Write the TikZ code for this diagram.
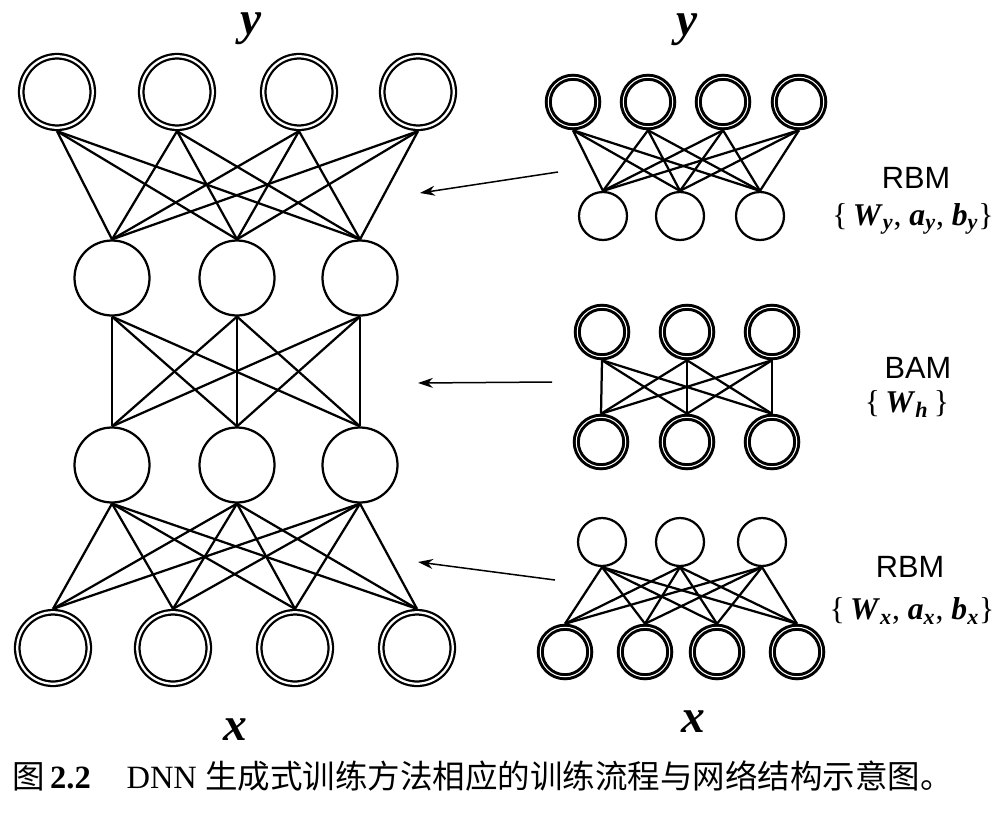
\documentclass[tikz,border=0pt]{standalone}
\usepackage{fontspec}
\setmainfont{Liberation Serif}
\setsansfont{Liberation Sans}
\newfontfamily\cjkfont{Noto Sans CJK SC}
\usetikzlibrary{arrows.meta}
\newcommand{\bsub}[2]{\textbf{\textit{#1}}\textsubscript{\textbf{\textit{#2}}}}

\begin{document}
\begin{tikzpicture}[x=0.2mm, y=-0.2mm,
  dbl/.style={draw, circle, double, line width=0.45mm, double distance=0.45mm,
    minimum size=14.3mm, inner sep=0, outer sep=0.68mm},
  sgl/.style={draw, circle, line width=0.45mm, minimum size=15mm, inner sep=0},
  sdbl/.style={draw, circle, double, line width=0.6mm, double distance=0.2mm,
    minimum size=9.9mm, inner sep=0, outer sep=0.7mm},
  ssgl/.style={draw, circle, line width=0.45mm, minimum size=9.6mm, inner sep=0},
  wire/.style={line width=0.45mm},
  feed/.style={-{Stealth[length=3mm, width=2mm]}, line width=0.3mm},
  var/.style={font=\fontsize{27}{30}\selectfont\bfseries\itshape, inner sep=0},
  nm/.style={font=\sffamily\fontsize{17.5}{20}\selectfont},
  prm/.style={font=\fontsize{18}{21}\selectfont}
]
\useasboundingbox (0,0) rectangle (1002,818);

% DNN (left)
\node[dbl] (t1) at (57,92)  {};
\node[dbl] (t2) at (177,92) {};
\node[dbl] (t3) at (299,92) {};
\node[dbl] (t4) at (418,92) {};

\node[sgl] (h1) at (112,278) {};
\node[sgl] (h2) at (237,278) {};
\node[sgl] (h3) at (360,278) {};

\node[sgl] (g1) at (112,465) {};
\node[sgl] (g2) at (237,465) {};
\node[sgl] (g3) at (360,465) {};

\node[dbl] (b1) at (53,648)  {};
\node[dbl] (b2) at (173,648) {};
\node[dbl] (b3) at (295,648) {};
\node[dbl] (b4) at (417,648) {};

\foreach \i in {1,...,4}
  \foreach \j in {1,2,3} {
    \draw[wire] (t\i.south) -- (h\j.north);
    \draw[wire] (g\j.south) -- (b\i.north);
  }
\foreach \i in {1,2,3}
  \foreach \j in {1,2,3}
    \draw[wire] (h\i.south) -- (g\j.north);

\node[var] (ly) at (251,29)  {y};
\node[var] (lx) at (235,730) {x};

% RBM, top
\node[sdbl] (ry1) at (573,102) {};
\node[sdbl] (ry2) at (648,102) {};
\node[sdbl] (ry3) at (723,102) {};
\node[sdbl] (ry4) at (799,102) {};
\node[ssgl] (rh1) at (603,216) {};
\node[ssgl] (rh2) at (680,216) {};
\node[ssgl] (rh3) at (760,216) {};
\foreach \i in {1,...,4}
  \foreach \j in {1,2,3}
    \draw[wire] (ry\i.south) -- (rh\j.north);

% BAM
\node[sdbl] (ma1) at (602,332) {};
\node[sdbl] (ma2) at (687,332) {};
\node[sdbl] (ma3) at (772,332) {};
\node[sdbl] (mb1) at (601,442) {};
\node[sdbl] (mb2) at (687,442) {};
\node[sdbl] (mb3) at (772,442) {};
\foreach \i in {1,2,3}
  \foreach \j in {1,2,3}
    \draw[wire] (ma\i.south) -- (mb\j.north);

% RBM, bottom
\node[ssgl] (rg1) at (602,542) {};
\node[ssgl] (rg2) at (680,542) {};
\node[ssgl] (rg3) at (762,542) {};
\node[sdbl] (rx1) at (565,652) {};
\node[sdbl] (rx2) at (645,652) {};
\node[sdbl] (rx3) at (717,652) {};
\node[sdbl] (rx4) at (797,652) {};
\foreach \i in {1,...,4}
  \foreach \j in {1,2,3}
    \draw[wire] (rg\j.south) -- (rx\i.north);

\node[var] (ry) at (687,30)  {y};
\node[var] (rx) at (693,722) {x};

% Names and parameters
\node[nm]  (n1) at (916,178) {RBM};
\node[prm] (p1) at (913,219) {\{\,\bsub{W}{y}, \bsub{a}{y}, \bsub{b}{y}\}};
\node[nm]  (n2) at (918,368) {BAM};
\node[prm] (p2) at (907,404) {\{\,\bsub{W}{h}\,\}};
\node[nm]  (n3) at (910,567) {RBM};
\node[prm] (p3) at (912,611) {\{\,\bsub{W}{x}, \bsub{a}{x}, \bsub{b}{x}\}};

% Arrows to the stack
\coordinate (a1s) at (558,172);
\coordinate (a1e) at (420,193);
\coordinate (a2s) at (552,382);
\coordinate (a2e) at (418,383);
\coordinate (a3s) at (555,580);
\coordinate (a3e) at (418,562);
\draw[feed] (a1s) -- (a1e);
\draw[feed] (a2s) -- (a2e);
\draw[feed] (a3s) -- (a3e);

% Caption
\node[anchor=west, font=\fontsize{18.5}{21}\selectfont] (cap) at (6,776)
  {{\cjkfont 图}\,\textbf{2.2}\hspace{1.1em}DNN {\cjkfont 生成式训练方法相应的训练流程与网络结构示意图。}};
\end{tikzpicture}
\end{document}
